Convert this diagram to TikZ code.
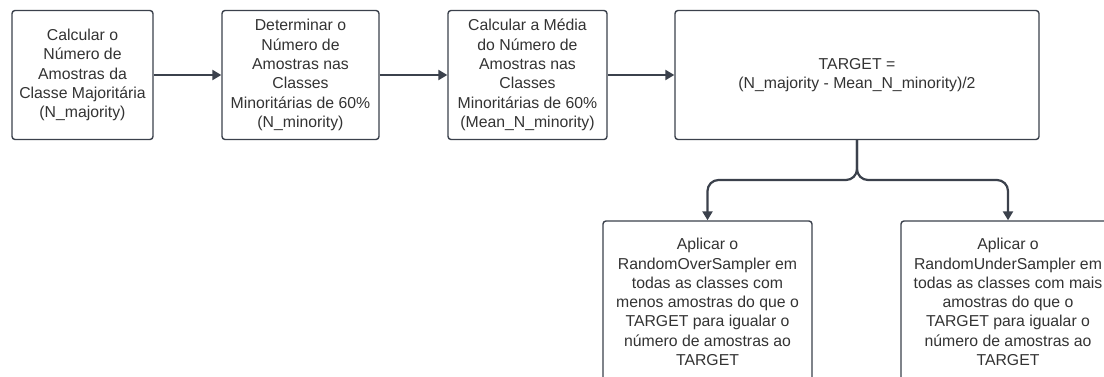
\documentclass[tikz,border=0pt]{standalone}
\usepackage{fontspec}
\setmainfont{Liberation Sans}
\usetikzlibrary{arrows.meta}
\definecolor{stroke}{HTML}{3B414C}
\definecolor{txt}{HTML}{333333}
\tikzset{
  box/.style={draw=stroke, line width=1.4pt, rounded corners=3pt, fill=white,
    align=center, text=txt, inner sep=0pt,
    font=\fontsize{15.8}{19.3}\selectfont},
  conn/.style={draw=stroke, line width=2.2pt, -{Triangle[length=9pt,width=10pt]}},
  fork/.style={conn, rounded corners=11pt}
}
\begin{document}
\begin{tikzpicture}[x=1pt,y=-1pt]
\useasboundingbox (0,0) rectangle (1104,377);
\clip (0,0) rectangle (1104,377);
\fill[white] (0,0) rectangle (1104,377);
\node[box, minimum width=141pt, minimum height=129pt] (b1) at (82.5,75)
  {Calcular o\\Número de\\Amostras da\\Classe Majoritária\\(N\_majority)};
\node[box, minimum width=157pt, minimum height=129pt] (b2) at (300.5,75)
  {Determinar o\\Número de\\Amostras nas\\Classes\\Minoritárias de 60\%\\(N\_minority)};
\node[box, minimum width=159pt, minimum height=129pt] (b3) at (527.5,75)
  {Calcular a Média\\do Número de\\Amostras nas\\Classes\\Minoritárias de 60\%\\(Mean\_N\_minority)};
\node[box, minimum width=364pt, minimum height=129pt] (b4) at (857,75)
  {TARGET =\\(N\_majority - Mean\_N\_minority)/2};
\node[box, minimum width=209pt, minimum height=162pt] (b5) at (707.5,302)
  {Aplicar o\\RandomOverSampler em\\todas as classes com\\menos amostras do que o\\TARGET para igualar o\\número de amostras ao\\TARGET};
\node[box, minimum width=214pt, minimum height=162pt] (b6) at (1008,302)
  {Aplicar o\\RandomUnderSampler em\\todas as classes com mais\\amostras do que o\\TARGET para igualar o\\número de amostras ao\\TARGET};
\draw[conn] (b1.east) -- (b2.west);
\draw[conn] (b2.east) -- (b3.west);
\draw[conn] (b3.east) -- (b4.west);
\coordinate (split) at (857,180);
\draw[fork] (b4.south) -- (split) -| (b5.north);
\draw[fork] (b4.south) -- (split) -| (b6.north);
\end{tikzpicture}
\end{document}
